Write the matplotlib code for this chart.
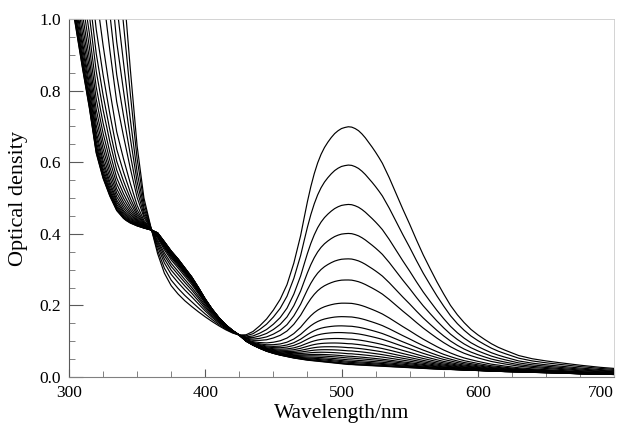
import numpy as np
import matplotlib
matplotlib.use("Agg")
import matplotlib.pyplot as plt
from matplotlib.ticker import MultipleLocator

wavelength = [300, 304, 310, 315, 320, 325, 330, 335, 340, 342, 345, 350, 355, 360,
              365, 370, 375, 380, 385, 390, 395, 400, 405, 410, 415, 420, 425,
              430, 435, 440, 445, 450, 455, 460, 465, 470, 472.5, 475, 477.5,
              480, 482.5, 485, 487.5, 490, 492.5, 495, 497.5, 500, 502.5, 505,
              507.5, 510, 512.5, 515, 517.5, 520, 522.5, 525, 527.5, 530,
              535, 540, 545, 550, 555, 560, 565, 570, 575, 580, 585, 590, 595,
              600, 605, 610, 615, 620, 630, 640, 650, 660, 675, 690, 700]

# Lowest-peak spectrum (initial state)
od_initial = [1.10, 1.00, 0.86, 0.75, 0.625, 0.555, 0.505, 0.465, 0.443, 0.437, 0.430,
              0.422, 0.416, 0.411,
              0.403, 0.378, 0.352, 0.330, 0.305, 0.280, 0.250, 0.218, 0.190, 0.166,
              0.146, 0.130, 0.117,
              0.100, 0.089, 0.080, 0.072, 0.066, 0.061, 0.057, 0.053, 0.050, 0.0485,
              0.047, 0.046, 0.045, 0.044, 0.043, 0.042, 0.041, 0.040, 0.039, 0.038,
              0.037, 0.036, 0.035, 0.0348, 0.034, 0.0335, 0.033, 0.0325, 0.032,
              0.0315, 0.031, 0.0305, 0.030,
              0.029, 0.028, 0.027, 0.026, 0.025, 0.024, 0.023, 0.022, 0.021,
              0.021, 0.020, 0.019, 0.019, 0.018, 0.017, 0.016, 0.016, 0.015, 0.014,
              0.013, 0.012, 0.011, 0.009, 0.008, 0.007]

# Highest-peak spectrum (final state)
od_final = [3.60, 3.35, 3.00, 2.70, 2.35, 2.00, 1.65, 1.32, 1.09, 1.00, 0.86,
            0.645, 0.500, 0.420,
            0.345, 0.290, 0.255, 0.232, 0.213, 0.197, 0.182, 0.168, 0.155, 0.143,
            0.132, 0.123, 0.117,
            0.118, 0.127, 0.143, 0.162, 0.187, 0.217, 0.258, 0.318, 0.395, 0.443,
            0.490, 0.532, 0.568, 0.598, 0.622, 0.641, 0.656, 0.669, 0.680, 0.688,
            0.694, 0.697, 0.699, 0.698, 0.694, 0.688, 0.679, 0.668, 0.655,
            0.642, 0.628, 0.613, 0.597,
            0.557, 0.513, 0.469, 0.427, 0.383, 0.341, 0.303, 0.266, 0.232,
            0.200, 0.174, 0.152, 0.133, 0.118, 0.105, 0.093, 0.083, 0.075, 0.060,
            0.051, 0.045, 0.040, 0.033, 0.027, 0.024]

peak_heights = [0.699, 0.592, 0.482, 0.401, 0.330, 0.271, 0.206, 0.168, 0.142,
                0.123, 0.106, 0.093, 0.082, 0.073, 0.065, 0.058, 0.053, 0.048,
                0.044, 0.041, 0.038, 0.036, 0.035]

x_ticks = [300, 400, 500, 600, 700]
y_ticks = [0.0, 0.2, 0.4, 0.6, 0.8, 1.0]

wl = np.array(wavelength, dtype=float)
a = np.array(od_initial)
b = np.array(od_final)
i_peak = wavelength.index(505)

plt.rcParams['font.family'] = ['Liberation Serif', 'DejaVu Serif']

fig = plt.figure(figsize=(6.17, 4.25), dpi=100)
ax = fig.add_axes([69 / 617, 48 / 425, 545 / 617, 358 / 425])

for p in peak_heights:
    frac = (p - a[i_peak]) / (b[i_peak] - a[i_peak])
    ax.plot(wl, a + frac * (b - a), color='black', lw=0.85)

ax.set_xlim(300, 700)
ax.set_ylim(0.0, 1.0)
ax.set_xticks(x_ticks)
ax.set_yticks(y_ticks)
ax.set_yticklabels([f"{v:.1f}" for v in y_ticks])
ax.xaxis.set_minor_locator(MultipleLocator(25))
ax.yaxis.set_minor_locator(MultipleLocator(0.05))
ax.tick_params(axis='both', which='major', direction='in', labelsize=12.5,
               color='0.35', width=0.8)
ax.tick_params(axis='y', which='major', length=10, pad=6)
ax.tick_params(axis='x', which='major', length=6, pad=6)
ax.tick_params(axis='both', which='minor', direction='in', length=4,
               color='0.5', width=0.7)
xlabels = ax.get_xticklabels()
xlabels[-1].set_horizontalalignment('right')

ax.spines['left'].set_color('0.35')
ax.spines['left'].set_linewidth(0.8)
ax.spines['bottom'].set_color('0.5')
ax.spines['bottom'].set_linewidth(0.8)
ax.spines['bottom'].set_linestyle((0, (2, 1)))
for s in ('top', 'right'):
    ax.spines[s].set_color('0.8')
    ax.spines[s].set_linewidth(0.6)

ax.set_xlabel('Wavelength/nm', fontsize=15.5, labelpad=2)
ax.set_ylabel('Optical density', fontsize=16, labelpad=8)

fig.savefig('out.png', dpi=100)
